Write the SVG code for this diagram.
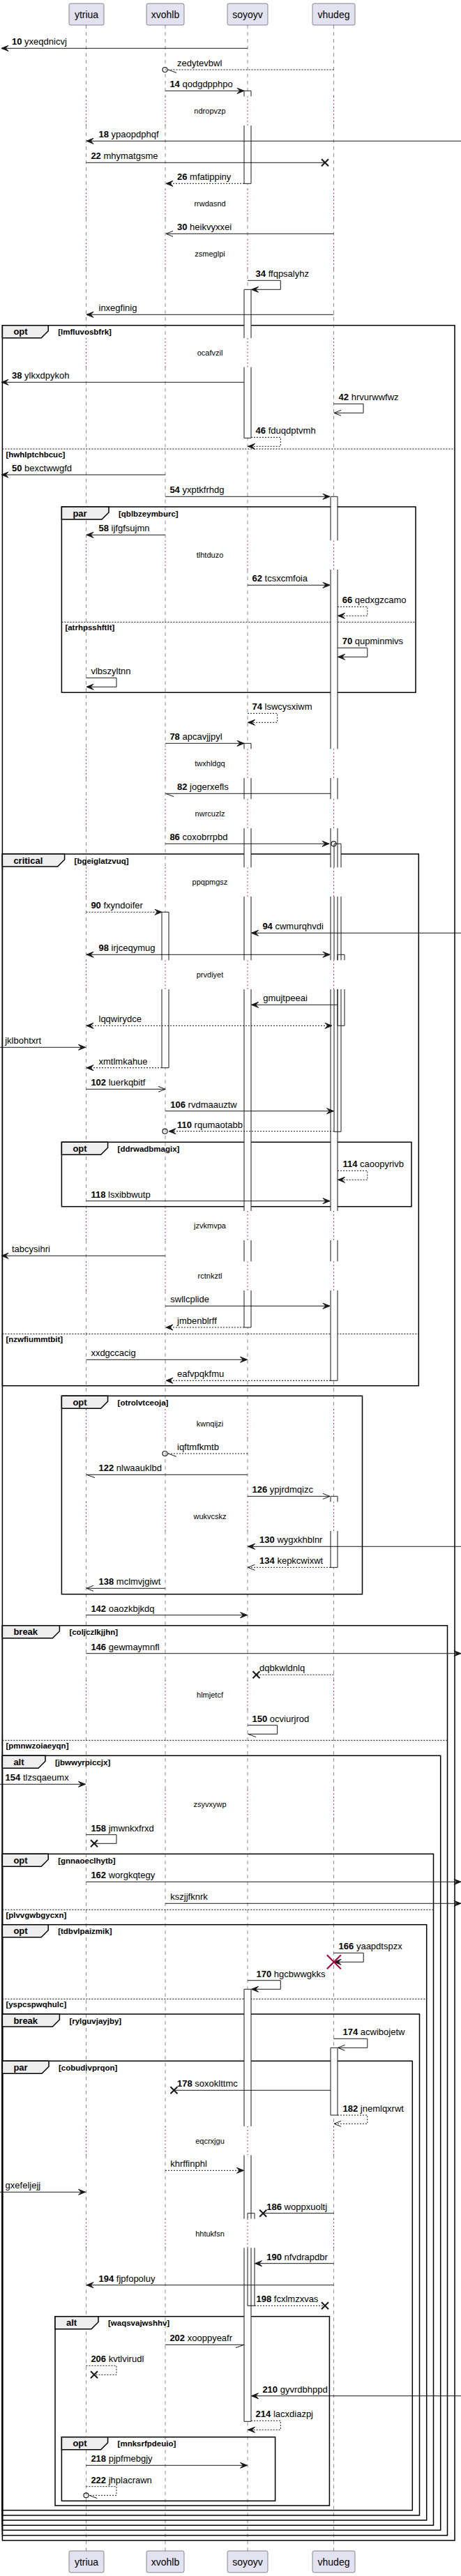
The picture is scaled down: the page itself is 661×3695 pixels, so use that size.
<svg xmlns="http://www.w3.org/2000/svg" width="661" height="3695" viewBox="0 0 661 3695">
<style>
text{font-family:"Liberation Sans",Arial,sans-serif;fill:#000}
.pt{font-size:14px;text-anchor:middle}
.pr{fill:#E2E2F0;stroke:#181818;stroke-width:0.5}
.ll{fill:none;stroke:#181818;stroke-width:0.5;stroke-dasharray:5,5}
.dl{fill:none;stroke:#A80036;stroke-width:1;stroke-dasharray:1.5,3.5}
.dt{font-size:11px;text-anchor:middle}
.m{fill:none;stroke:#181818;stroke-width:1}
.d{stroke-dasharray:2,2}
.ml{font-size:13px}
.b{font-weight:bold}
.gf{fill:none;stroke:#000;stroke-width:1.5}
.tab{fill:#EEEEEE;stroke:#000;stroke-width:1.5}
.gt{font-size:13px;font-weight:bold}
.gg{font-size:11.5px;font-weight:bold}
.el{stroke:#000;stroke-width:1;stroke-dasharray:2,2}
.bf{fill:#fff;stroke:none}
.bs{fill:none;stroke:#181818;stroke-width:1}
.x{stroke:#181818;stroke-width:2;fill:none}
.xr{stroke:#A80036;stroke-width:2;fill:none}
.c{fill:none;stroke:#181818;stroke-width:1.2}
</style>
<defs>
<marker id="f" viewBox="0 0 10 8" refX="10" refY="4" markerWidth="10" markerHeight="8" markerUnits="userSpaceOnUse" orient="auto-start-reverse" style="overflow:visible"><path d="M10,4 L0,0 L4,4 L0,8 Z" fill="#181818" stroke="#181818" stroke-width="1"/></marker>
<marker id="o" viewBox="0 0 10 8" refX="10" refY="4" markerWidth="10" markerHeight="8" markerUnits="userSpaceOnUse" orient="auto" style="overflow:visible"><path d="M0,0 L10,4 L0,8" fill="none" stroke="#181818" stroke-width="1"/></marker>
<path id="lld" d="M0,36V138.3M0,180V271.3M0,313V343.3M0,385V485M0,526.7V775.3M0,817V1074.3M0,1116V1146.3M0,1188V1244.3M0,1286V1377.3M0,1419V1737M0,1779V1809.3M0,1851V2021.3M0,2063V2154.3M0,2196V2410.3M0,2452V2567.3M0,2609V3050M0,3091.3V3182.7M0,3224.3V3659"/>
<path id="lldot" d="M0,138.3V180M0,271.3V313M0,343.3V385M0,485V526.7M0,775.3V817M0,1074.3V1116M0,1146.3V1188M0,1244.3V1286M0,1377.3V1419M0,1737V1779M0,1809.3V1851M0,2021.3V2063M0,2154.3V2196M0,2410.3V2452M0,2567.3V2609M0,3050V3091.3M0,3182.7V3224.3"/>
</defs>
<rect width="661" height="3695" fill="#fff"/>
<g id="lifelines">
<use href="#lld" x="123.5" class="ll"/><use href="#lld" x="237" class="ll"/><use href="#lld" x="355" class="ll"/><use href="#lld" x="478.5" class="ll"/>
<use href="#lldot" x="123.5" class="dl"/><use href="#lldot" x="237" class="dl"/><use href="#lldot" x="355" class="dl"/><use href="#lldot" x="478.5" class="dl"/>
</g>
<g id="delays">
<text class="dt" x="301" y="163.2">ndropvzp</text>
<text class="dt" x="301" y="296.2">rrwdasnd</text>
<text class="dt" x="301" y="368.2">zsmeglpi</text>
<text class="dt" x="301" y="509.9">ocafvzil</text>
<text class="dt" x="301" y="800.2">tlhtduzo</text>
<text class="dt" x="301" y="1099.2">twxhldgq</text>
<text class="dt" x="301" y="1171.2">nwrcuzlz</text>
<text class="dt" x="301" y="1269.2">ppqpmgsz</text>
<text class="dt" x="301" y="1402.2">prvdiyet</text>
<text class="dt" x="301" y="1762">jzvkmvpa</text>
<text class="dt" x="301" y="1834.2">rctnkztl</text>
<text class="dt" x="301" y="2046.2">kwnqijzi</text>
<text class="dt" x="301" y="2179.2">wukvcskz</text>
<text class="dt" x="301" y="2435.2">hlmjetcf</text>
<text class="dt" x="301" y="2592.2">zsyvxywp</text>
<text class="dt" x="301" y="3074.7">eqcrxjgu</text>
<text class="dt" x="301" y="3207.5">hhtukfsn</text>
</g>
<g id="groups">
<g id="g-opt1"><rect class="gf" x="3.4" y="466.7" width="648.6" height="3177.3"/><path class="tab" d="M3.4,466.7H69.2V474.7L59.2,484.7H3.4Z"/><text class="gt" x="19.4" y="480.2">opt</text><text class="gg" x="83.2" y="480.2">[lmfluvosbfrk]</text><line class="el" x1="3.4" y1="644" x2="652" y2="644"/><text class="gg" x="8.4" y="655.5">[hwhlptchbcuc]</text></g>
<g id="g-par1"><rect class="gf" x="88.4" y="727" width="507.6" height="266.3"/><path class="tab" d="M88.4,727H156V735L146,745H88.4Z"/><text class="gt" x="104.4" y="740.5">par</text><text class="gg" x="170" y="740.5">[qblbzeymburc]</text><line class="el" x1="88.4" y1="892.3" x2="596" y2="892.3"/><text class="gg" x="93.4" y="903.8">[atrhpsshftlt]</text></g>
<g id="g-critical"><rect class="gf" x="3.4" y="1225" width="596.9" height="762.7"/><path class="tab" d="M3.4,1225H92.6V1233L82.6,1243H3.4Z"/><text class="gt" x="19.4" y="1238.5">critical</text><text class="gg" x="106.6" y="1238.5">[bgeiglatzvuq]</text><line class="el" x1="3.4" y1="1913.3" x2="600.3" y2="1913.3"/><text class="gg" x="8.4" y="1924.8">[nzwfiummtbit]</text></g>
<g id="g-opt2"><rect class="gf" x="88.4" y="1638.3" width="501.6" height="92.4"/><path class="tab" d="M88.4,1638.3H154.6V1646.3L144.6,1656.3H88.4Z"/><text class="gt" x="104.4" y="1651.8">opt</text><text class="gg" x="168.6" y="1651.8">[ddrwadbmagix]</text></g>
<g id="g-opt3"><rect class="gf" x="88.4" y="2002.3" width="431.1" height="284.4"/><path class="tab" d="M88.4,2002.3H154.6V2010.3L144.6,2020.3H88.4Z"/><text class="gt" x="104.4" y="2015.8">opt</text><text class="gg" x="168.6" y="2015.8">[otrolvtceoja]</text></g>
<g id="g-break1"><rect class="gf" x="3.4" y="2331.7" width="638.1" height="1305"/><path class="tab" d="M3.4,2331.7H85.4V2339.7L75.4,2349.7H3.4Z"/><text class="gt" x="19.4" y="2345.2">break</text><text class="gg" x="99.4" y="2345.2">[coljczlkjjhn]</text><line class="el" x1="3.4" y1="2496.3" x2="641.5" y2="2496.3"/><text class="gg" x="8.4" y="2507.8">[pmnwzoiaeyqn]</text></g>
<g id="g-alt1"><rect class="gf" x="3.4" y="2518.3" width="628.3" height="1111"/><path class="tab" d="M3.4,2518.3H65V2526.3L55,2536.3H3.4Z"/><text class="gt" x="19.4" y="2531.8">alt</text><text class="gg" x="79" y="2531.8">[jbwwyrpiccjx]</text></g>
<g id="g-opt4"><rect class="gf" x="3.4" y="2659.3" width="618.1" height="963"/><path class="tab" d="M3.4,2659.3H69.2V2667.3L59.2,2677.3H3.4Z"/><text class="gt" x="19.4" y="2672.8">opt</text><text class="gg" x="83.2" y="2672.8">[gnnaoeclhytb]</text><line class="el" x1="3.4" y1="2739.3" x2="621.5" y2="2739.3"/><text class="gg" x="8.4" y="2750.8">[plvvgwbgycxn]</text></g>
<g id="g-opt5"><rect class="gf" x="3.4" y="2760.7" width="608.3" height="854.3"/><path class="tab" d="M3.4,2760.7H69.2V2768.7L59.2,2778.7H3.4Z"/><text class="gt" x="19.4" y="2774.2">opt</text><text class="gg" x="83.2" y="2774.2">[tdbvlpaizmik]</text><line class="el" x1="3.4" y1="2867.3" x2="611.7" y2="2867.3"/><text class="gg" x="8.4" y="2878.8">[yspcspwqhulc]</text></g>
<g id="g-break2"><rect class="gf" x="3.4" y="2889" width="598.1" height="719"/><path class="tab" d="M3.4,2889H85.4V2897L75.4,2907H3.4Z"/><text class="gt" x="19.4" y="2902.5">break</text><text class="gg" x="99.4" y="2902.5">[rylguvjayjby]</text></g>
<g id="g-par2"><rect class="gf" x="3.4" y="2956.3" width="587.9" height="644.4"/><path class="tab" d="M3.4,2956.3H70V2964.3L60,2974.3H3.4Z"/><text class="gt" x="19.4" y="2969.8">par</text><text class="gg" x="84" y="2969.8">[cobudivprqon]</text></g>
<g id="g-alt2"><rect class="gf" x="79" y="3322.7" width="393.4" height="271.3"/><path class="tab" d="M79,3322.7H141V3330.7L131,3340.7H79Z"/><text class="gt" x="95" y="3336.2">alt</text><text class="gg" x="155" y="3336.2">[waqsvajwshhv]</text></g>
<g id="g-opt6"><rect class="gf" x="88.4" y="3495.7" width="306.2" height="91.6"/><path class="tab" d="M88.4,3495.7H154.6V3503.7L144.6,3513.7H88.4Z"/><text class="gt" x="104.4" y="3509.2">opt</text><text class="gg" x="168.6" y="3509.2">[mnksrfpdeuio]</text></g>
</g>
<g id="activations">
<g class="bf">
<rect x="350" y="130.3" width="10" height="8"/><rect x="350" y="180" width="10" height="83.3"/>
<rect x="350" y="415.3" width="10" height="69.7"/><rect x="350" y="526.7" width="10" height="101.6"/>
<rect x="350" y="1066.3" width="10" height="8"/><rect x="350" y="1116" width="10" height="30.3"/><rect x="350" y="1188" width="10" height="56.3"/><rect x="350" y="1286" width="10" height="91.3"/><rect x="350" y="1419" width="10" height="318"/><rect x="350" y="1779" width="10" height="30.3"/><rect x="350" y="1851" width="10" height="53"/>
<rect x="350" y="2853.3" width="10" height="196.7"/><rect x="350" y="3091.3" width="10" height="91.4"/><rect x="350" y="3224.3" width="10" height="249"/>
<rect x="355" y="3174.7" width="10" height="8"/><rect x="355" y="3224.3" width="10" height="83"/>
<rect x="474" y="712.3" width="10" height="63"/><rect x="474" y="817" width="10" height="257.3"/><rect x="474" y="1116" width="10" height="30.3"/><rect x="474" y="1188" width="10" height="56.3"/><rect x="474" y="1286" width="10" height="91.3"/><rect x="474" y="1419" width="10" height="318"/><rect x="474" y="1779" width="10" height="30.3"/><rect x="474" y="1851" width="10" height="129.3"/>
<rect x="479" y="1210.3" width="10" height="34"/><rect x="479" y="1286" width="10" height="91.3"/><rect x="479" y="1419" width="10" height="204.3"/>
<rect x="484" y="1369.3" width="10" height="8"/><rect x="484" y="1419" width="10" height="52.3"/>
<rect x="474" y="2146.3" width="10" height="8"/><rect x="474" y="2196" width="10" height="52.3"/>
<rect x="474" y="2937.3" width="10" height="96.7"/>
<rect x="232" y="1308.3" width="10" height="69"/><rect x="232" y="1419" width="10" height="112.7"/>
</g>
<g class="bs">
<path d="M350,138.3V130.3H360V138.3M350,180V263.3H360V180"/>
<path d="M350,485V415.3H360V485M350,526.7V628.3H360V526.7"/>
<path d="M350,1074.3V1066.3H360V1074.3M350,1116V1146.3M360,1116V1146.3M350,1188V1244.3M360,1188V1244.3M350,1286V1377.3M360,1286V1377.3M350,1419V1737M360,1419V1737M350,1779V1809.3M360,1779V1809.3M350,1851V1904H360V1851"/>
<path d="M350,3050V2853.3H360V3050M350,3091.3V3182.7M360,3091.3V3182.7M350,3224.3V3473.3H360V3224.3"/>
<path d="M355,3182.7V3174.7H365V3182.7M355,3224.3V3307.3H365V3224.3"/>
<path d="M474,775.3V712.3H484V775.3M474,817V1074.3M484,817V1074.3M474,1116V1146.3M484,1116V1146.3M474,1188V1244.3M484,1188V1244.3M474,1286V1377.3M484,1286V1377.3M474,1419V1737M484,1419V1737M474,1779V1809.3M484,1779V1809.3M474,1851V1980.3H484V1851"/>
<path d="M479,1244.3V1210.3H489V1244.3M479,1286V1377.3M489,1286V1377.3M479,1419V1623.3H489V1419"/>
<path d="M484,1377.3V1369.3H494V1377.3M484,1419V1471.3H494V1419"/>
<path d="M474,2154.3V2146.3H484V2154.3M474,2196V2248.3H484V2196"/>
<path d="M474,2937.3H484V3034H474Z"/>
<path d="M232,1377.3V1308.3H242V1377.3M232,1419V1531.7H242V1419"/>
</g>
</g>
<g id="messages" class="ml">
<line class="m" x1="355" y1="69.3" x2="2" y2="69.3" marker-end="url(#f)"/><text x="17" y="64.3"><tspan class="b">10</tspan> yxeqdnicvj</text>
<line class="m d" x1="478.5" y1="100" x2="241" y2="100"/><circle class="c" cx="236.5" cy="100" r="3.5"/><line class="m" x1="241" y1="100" x2="253" y2="104.3"/><text x="254" y="95">zedytevbwl</text>
<line class="m" x1="237" y1="130.3" x2="350" y2="130.3" marker-end="url(#f)"/><text x="243.4" y="125.3"><tspan class="b">14</tspan> qodgdpphpo</text>
<line class="m" x1="661" y1="202.3" x2="124" y2="202.3" marker-end="url(#f)"/><text x="141.5" y="197.3"><tspan class="b">18</tspan> ypaopdphqf</text>
<line class="m" x1="123.5" y1="233.3" x2="466" y2="233.3"/><path class="x" d="M461,228.3L471,238.3M471,228.3L461,238.3"/><text x="130.4" y="228.3"><tspan class="b">22</tspan> mhymatgsme</text>
<line class="m d" x1="350" y1="263.3" x2="238" y2="263.3" marker-end="url(#f)"/><text x="254" y="258.3"><tspan class="b">26</tspan> mfatippiny</text>
<line class="m" x1="478.5" y1="335.3" x2="238" y2="335.3" marker-end="url(#o)"/><text x="254" y="330.3"><tspan class="b">30</tspan> heikvyxxei</text>
<path class="m" d="M355,402.3H402.3V415.3H360.5" marker-end="url(#f)"/><text x="366.6" y="397.3"><tspan class="b">34</tspan> ffqpsalyhz</text>
<line class="m" x1="478.5" y1="451.3" x2="124" y2="451.3" marker-end="url(#f)"/><text x="141.5" y="446.3">inxegfinig</text>
<line class="m" x1="350" y1="548.3" x2="2" y2="548.3" marker-end="url(#f)"/><text x="17" y="543.3"><tspan class="b">38</tspan> ylkxdpykoh</text>
<path class="m" d="M478.5,579.3H521V592.3H479" marker-end="url(#o)"/><text x="485.6" y="574.3"><tspan class="b">42</tspan> hrvurwwfwz</text>
<path class="m d" d="M360,627.3H402.3V640.3H355.5" marker-end="url(#f)"/><text x="366.6" y="622.3"><tspan class="b">46</tspan> fduqdptvmh</text>
<line class="m" x1="237" y1="681" x2="2" y2="681" marker-end="url(#f)"/><text x="17" y="676"><tspan class="b">50</tspan> bexctwwgfd</text>
<line class="m" x1="237" y1="712.3" x2="473" y2="712.3" marker-end="url(#f)"/><text x="243.4" y="707.3"><tspan class="b">54</tspan> yxptkfrhdg</text>
<line class="m" x1="237" y1="767.3" x2="124" y2="767.3" marker-end="url(#f)"/><text x="141.5" y="762.3"><tspan class="b">58</tspan> ijfgfsujmn</text>
<line class="m" x1="355" y1="839.3" x2="473" y2="839.3" marker-end="url(#f)"/><text x="361.5" y="834.3"><tspan class="b">62</tspan> tcsxcmfoia</text>
<path class="m d" d="M484,870.3H526.8V883.3H484.5" marker-end="url(#f)"/><text x="490.7" y="865.3"><tspan class="b">66</tspan> qedxgzcamo</text>
<path class="m" d="M484,929.3H526.8V942.3H484.5" marker-end="url(#f)"/><text x="490.7" y="924.3"><tspan class="b">70</tspan> qupminmivs</text>
<path class="m" d="M123.5,972.3H167V985.3H124" marker-end="url(#f)"/><text x="130.4" y="967.3">vlbszyltnn</text>
<path class="m d" d="M355,1023.3H397.6V1036.3H355.5" marker-end="url(#f)"/><text x="361.5" y="1018.3"><tspan class="b">74</tspan> lswcysxiwm</text>
<line class="m" x1="237" y1="1066.3" x2="350" y2="1066.3" marker-end="url(#f)"/><text x="243.4" y="1061.3"><tspan class="b">78</tspan> apcavjjpyl</text>
<line class="m" x1="474" y1="1138.3" x2="237.5" y2="1138.3"/><line class="m" x1="237.5" y1="1138.3" x2="249" y2="1142.6"/><text x="254" y="1133.3"><tspan class="b">82</tspan> jogerxefls</text>
<line class="m" x1="237" y1="1210.3" x2="472" y2="1210.3" marker-end="url(#f)"/><circle class="c" cx="478.5" cy="1210.3" r="3.5"/><text x="243.4" y="1205.3"><tspan class="b">86</tspan> coxobrrpbd</text>
<line class="m d" x1="123.5" y1="1308.3" x2="232" y2="1308.3" marker-end="url(#f)"/><text x="130.4" y="1303.3"><tspan class="b">90</tspan> fxyndoifer</text>
<line class="m" x1="661" y1="1338.3" x2="360.5" y2="1338.3" marker-end="url(#f)"/><text x="376.4" y="1333.3"><tspan class="b">94</tspan> cwmurqhvdi</text>
<line class="m" x1="124" y1="1369.3" x2="473" y2="1369.3" marker-start="url(#f)" marker-end="url(#f)"/><text x="141.5" y="1364.3"><tspan class="b">98</tspan> irjceqymug</text>
<line class="m" x1="484" y1="1441.3" x2="360.5" y2="1441.3" marker-end="url(#f)"/><text x="377.2" y="1436.3">gmujtpeeai</text>
<line class="m d" x1="124" y1="1471.3" x2="476" y2="1471.3" marker-start="url(#f)" marker-end="url(#f)"/><text x="141.5" y="1466.3">lqqwirydce</text>
<line class="m" x1="0" y1="1502.3" x2="122.5" y2="1502.3" marker-end="url(#f)"/><text x="7.2" y="1497.3">jklbohtxrt</text>
<line class="m d" x1="232" y1="1531.7" x2="124" y2="1531.7" marker-end="url(#f)"/><text x="141.5" y="1526.7">xmtlmkahue</text>
<line class="m" x1="123.5" y1="1562.3" x2="237" y2="1562.3" marker-end="url(#o)"/><text x="130.4" y="1557.3"><tspan class="b">102</tspan> luerkqbitf</text>
<line class="m" x1="237" y1="1593.7" x2="478.5" y2="1593.7" marker-end="url(#f)"/><text x="244.3" y="1588.7"><tspan class="b">106</tspan> rvdmaauztw</text>
<line class="m d" x1="479" y1="1622.7" x2="242" y2="1622.7" marker-end="url(#f)"/><circle class="c" cx="236.5" cy="1622.7" r="3.5"/><text x="254" y="1617.7"><tspan class="b">110</tspan> rqumaotabb</text>
<path class="m d" d="M484,1679.3H526.8V1692.3H484.5" marker-end="url(#f)"/><text x="491.5" y="1674.3"><tspan class="b">114</tspan> caoopyrivb</text>
<line class="m" x1="123.5" y1="1722.7" x2="473" y2="1722.7" marker-end="url(#f)"/><text x="130.4" y="1717.7"><tspan class="b">118</tspan> lsxibbwutp</text>
<line class="m" x1="237" y1="1801.3" x2="2" y2="1801.3" marker-end="url(#f)"/><text x="17" y="1796.3">tabcysihri</text>
<line class="m" x1="237" y1="1873.3" x2="473" y2="1873.3" marker-end="url(#f)"/><text x="244.3" y="1868.3">swllcplide</text>
<line class="m d" x1="350" y1="1904" x2="238" y2="1904" marker-end="url(#f)"/><text x="254" y="1899">jmbenblrff</text>
<line class="m" x1="123.5" y1="1950.3" x2="354.5" y2="1950.3" marker-end="url(#f)"/><text x="130.4" y="1945.3">xxdgccacig</text>
<line class="m d" x1="474" y1="1980.3" x2="238" y2="1980.3" marker-end="url(#f)"/><text x="254" y="1975.3">eafvpqkfmu</text>
<line class="m d" x1="355" y1="2085" x2="241" y2="2085"/><circle class="c" cx="236.5" cy="2085" r="3.5"/><line class="m" x1="241" y1="2085" x2="253" y2="2089.3"/><text x="254" y="2080">iqftmfkmtb</text>
<line class="m" x1="355" y1="2115.3" x2="124" y2="2115.3"/><line class="m" x1="124" y1="2115.3" x2="136" y2="2119.6"/><text x="141.5" y="2110.3"><tspan class="b">122</tspan> nlwaauklbd</text>
<line class="m" x1="355" y1="2146.3" x2="473" y2="2146.3" marker-end="url(#o)"/><text x="361.5" y="2141.3"><tspan class="b">126</tspan> ypjrdmqizc</text>
<line class="m" x1="661" y1="2218.3" x2="355.5" y2="2218.3" marker-end="url(#f)"/><text x="372.1" y="2213.3"><tspan class="b">130</tspan> wygxkhblnr</text>
<line class="m d" x1="474" y1="2248.3" x2="355.5" y2="2248.3" marker-end="url(#o)"/><text x="372.1" y="2243.3"><tspan class="b">134</tspan> kepkcwixwt</text>
<line class="m" x1="237" y1="2278.3" x2="124" y2="2278.3" marker-end="url(#o)"/><text x="141.5" y="2273.3"><tspan class="b">138</tspan> mclmvjgiwt</text>
<line class="m" x1="123.5" y1="2316.7" x2="354.5" y2="2316.7" marker-end="url(#f)"/><text x="130.4" y="2311.7"><tspan class="b">142</tspan> oaozkbjkdq</text>
<line class="m" x1="123.5" y1="2371.7" x2="661" y2="2371.7" marker-end="url(#f)"/><text x="130.4" y="2366.7"><tspan class="b">146</tspan> gewmaymnfl</text>
<line class="m d" x1="478.5" y1="2402.3" x2="367.5" y2="2402.3"/><path class="x" d="M362.5,2397.3L372.5,2407.3M372.5,2397.3L362.5,2407.3"/><text x="372.1" y="2397.3">dqbkwldnlq</text>
<path class="m" d="M355,2474.7H397.6V2487.3H355.5"/><line class="m" x1="355.5" y1="2487.3" x2="367" y2="2491.6"/><text x="361.5" y="2469.7"><tspan class="b">150</tspan> ocviurjrod</text>
<line class="m" x1="0" y1="2559.3" x2="122.5" y2="2559.3" marker-end="url(#f)"/><text x="7.6" y="2554.3"><tspan class="b">154</tspan> tlzsqaeumx</text>
<path class="m" d="M123.5,2631.7H167V2644.3H135"/><path class="x" d="M130,2639.3L140,2649.3M140,2639.3L130,2649.3"/><text x="130.4" y="2626.7"><tspan class="b">158</tspan> jmwnkxfrxd</text>
<line class="m" x1="123.5" y1="2699.3" x2="661" y2="2699.3" marker-end="url(#f)"/><text x="130.4" y="2694.3"><tspan class="b">162</tspan> worgkqtegy</text>
<line class="m" x1="237" y1="2730.3" x2="661" y2="2730.3" marker-end="url(#f)"/><text x="244.3" y="2725.3">kszjjfknrk</text>
<path class="m" d="M478.5,2801.3H521.2V2814.3H479" marker-end="url(#f)"/><path class="xr" d="M468.8,2804.3L488.8,2824.3M488.8,2804.3L468.8,2824.3"/><text x="485.6" y="2796.3"><tspan class="b">166</tspan> yaapdtspzx</text>
<path class="m" d="M355,2840.7H402.3V2853.3H360.5" marker-end="url(#f)"/><text x="367.5" y="2835.7"><tspan class="b">170</tspan> hgcbwwgkks</text>
<path class="m" d="M478.5,2924.3H526.8V2937.3H484.5" marker-end="url(#o)"/><text x="491.5" y="2919.3"><tspan class="b">174</tspan> acwibojetw</text>
<line class="m" x1="474" y1="2998.3" x2="249.4" y2="2998.3"/><path class="x" d="M244.4,2993.3L254.4,3003.3M254.4,2993.3L244.4,3003.3"/><text x="254" y="2993.3"><tspan class="b">178</tspan> soxoklttmc</text>
<path class="m d" d="M484,3034H526.8V3046.3H479" marker-end="url(#o)"/><text x="491.5" y="3029"><tspan class="b">182</tspan> jnemlqxrwt</text>
<line class="m d" x1="237" y1="3113.3" x2="349.5" y2="3113.3" marker-end="url(#f)"/><text x="244.3" y="3108.3">khrffinphl</text>
<line class="m" x1="0" y1="3144.3" x2="122.5" y2="3144.3" marker-end="url(#f)"/><text x="7.6" y="3139.3">gxefeljejj</text>
<line class="m" x1="478.5" y1="3174.7" x2="377.2" y2="3174.7"/><path class="x" d="M372.2,3169.7L382.2,3179.7M382.2,3169.7L372.2,3179.7"/><text x="382.3" y="3169.7"><tspan class="b">186</tspan> woppxuoltj</text>
<line class="m" x1="478.5" y1="3246.7" x2="365.5" y2="3246.7" marker-end="url(#f)"/><text x="382.3" y="3241.7"><tspan class="b">190</tspan> nfvdrapdbr</text>
<line class="m" x1="478.5" y1="3277.7" x2="124" y2="3277.7" marker-end="url(#f)"/><text x="141.5" y="3272.7"><tspan class="b">194</tspan> fjpfopoluy</text>
<line class="m d" x1="365" y1="3307.3" x2="466" y2="3307.3"/><path class="x" d="M461,3302.3L471,3312.3M471,3302.3L461,3312.3"/><text x="367.5" y="3302.3"><tspan class="b">198</tspan> fcxlmzxvas</text>
<line class="m" x1="237" y1="3363.3" x2="350" y2="3363.3"/><line class="m" x1="350" y1="3363.3" x2="338" y2="3367.6"/><text x="243.4" y="3358.3"><tspan class="b">202</tspan> xooppyeafr</text>
<path class="m d" d="M123.5,3393.3H167V3406.3H135"/><path class="x" d="M130,3401.3L140,3411.3M140,3401.3L130,3411.3"/><text x="130.4" y="3388.3"><tspan class="b">206</tspan> kvtlvirudl</text>
<line class="m" x1="661" y1="3436.7" x2="360.5" y2="3436.7" marker-end="url(#f)"/><text x="376.4" y="3431.7"><tspan class="b">210</tspan> gyvrdbhppd</text>
<path class="m d" d="M360,3472.3H402.3V3485.3H355.5" marker-end="url(#f)"/><text x="366.6" y="3467.3"><tspan class="b">214</tspan> lacxdiazpj</text>
<line class="m" x1="123.5" y1="3536.3" x2="354.5" y2="3536.3" marker-end="url(#f)"/><text x="130.4" y="3531.3"><tspan class="b">218</tspan> pjpfmebgjy</text>
<path class="m d" d="M123.5,3566.7H167V3579.3H127.5"/><circle class="c" cx="123.5" cy="3579.3" r="3.5"/><line class="m" x1="128" y1="3579.3" x2="139.3" y2="3583.6"/><text x="130.4" y="3561.7"><tspan class="b">222</tspan> jhplacrawn</text>
</g>
<g id="p-ytriua"><rect class="pr" x="99" y="5" width="50" height="31" rx="2.5"/><text class="pt" x="124" y="26">ytriua</text><rect class="pr" x="99" y="3659" width="50" height="31" rx="2.5"/><text class="pt" x="124" y="3680">ytriua</text></g>
<g id="p-xvohlb"><rect class="pr" x="210" y="5" width="54" height="31" rx="2.5"/><text class="pt" x="237" y="26">xvohlb</text><rect class="pr" x="210" y="3659" width="54" height="31" rx="2.5"/><text class="pt" x="237" y="3680">xvohlb</text></g>
<g id="p-soyoyv"><rect class="pr" x="326" y="5" width="58" height="31" rx="2.5"/><text class="pt" x="355" y="26">soyoyv</text><rect class="pr" x="326" y="3659" width="58" height="31" rx="2.5"/><text class="pt" x="355" y="3680">soyoyv</text></g>
<g id="p-vhudeg"><rect class="pr" x="448" y="5" width="61" height="31" rx="2.5"/><text class="pt" x="478.5" y="26">vhudeg</text><rect class="pr" x="448" y="3659" width="61" height="31" rx="2.5"/><text class="pt" x="478.5" y="3680">vhudeg</text></g>
</svg>
